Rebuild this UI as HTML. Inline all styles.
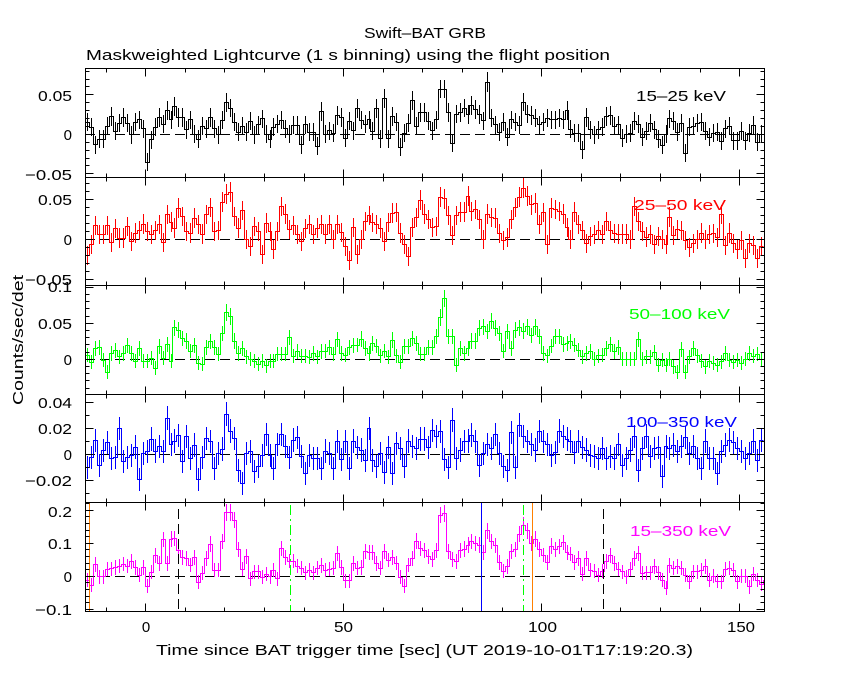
<!DOCTYPE html>
<html><head><meta charset="utf-8">
<style>
html,body{margin:0;padding:0;background:#fff;}
svg{display:block;}
text{font-family:"Liberation Sans","DejaVu Sans",sans-serif;font-size:15px;fill:#000;}
</style></head>
<body>
<svg id="s" width="850" height="680" viewBox="0 0 850 680" xmlns="http://www.w3.org/2000/svg">
<rect x="0" y="0" width="850" height="680" fill="#fff"/>
<defs>
<clipPath id="c0"><rect x="85" y="68" width="680" height="110"/></clipPath>
<clipPath id="c1"><rect x="85" y="177" width="680" height="109"/></clipPath>
<clipPath id="c2"><rect x="85" y="285" width="680" height="110"/></clipPath>
<clipPath id="c3"><rect x="85" y="394" width="680" height="109"/></clipPath>
<clipPath id="c4"><rect x="85" y="502" width="680" height="110"/></clipPath>
</defs>
<g id="data"></g>
<g id="events"></g>
<g id="axes"></g>

<text x="364" y="38" textLength="122" lengthAdjust="spacingAndGlyphs">Swift–BAT GRB</text>
<text x="86" y="60" textLength="524" lengthAdjust="spacingAndGlyphs">Maskweighted Lightcurve (1 s binning) using the flight position</text>

<text x="72" y="101" text-anchor="end" textLength="34" lengthAdjust="spacingAndGlyphs">0.05</text>
<text x="72" y="140" text-anchor="end">0</text>
<text x="72" y="180" text-anchor="end" textLength="47" lengthAdjust="spacingAndGlyphs">−0.05</text>

<text x="72" y="205" text-anchor="end" textLength="34" lengthAdjust="spacingAndGlyphs">0.05</text>
<text x="72" y="245" text-anchor="end">0</text>
<text x="72" y="285" text-anchor="end" textLength="47" lengthAdjust="spacingAndGlyphs">−0.05</text>

<text x="72" y="292" text-anchor="end" textLength="24" lengthAdjust="spacingAndGlyphs">0.1</text>
<text x="72" y="329" text-anchor="end" textLength="34" lengthAdjust="spacingAndGlyphs">0.05</text>
<text x="72" y="365" text-anchor="end">0</text>

<text x="72" y="408" text-anchor="end" textLength="34" lengthAdjust="spacingAndGlyphs">0.04</text>
<text x="72" y="434" text-anchor="end" textLength="34" lengthAdjust="spacingAndGlyphs">0.02</text>
<text x="72" y="460" text-anchor="end">0</text>
<text x="72" y="486" text-anchor="end" textLength="47" lengthAdjust="spacingAndGlyphs">−0.02</text>

<text x="72" y="517" text-anchor="end" textLength="24" lengthAdjust="spacingAndGlyphs">0.2</text>
<text x="72" y="549" text-anchor="end" textLength="24" lengthAdjust="spacingAndGlyphs">0.1</text>
<text x="72" y="582" text-anchor="end">0</text>
<text x="72" y="615" text-anchor="end" textLength="37" lengthAdjust="spacingAndGlyphs">−0.1</text>

<text x="146" y="632" text-anchor="middle">0</text>
<text x="334" y="632" textLength="19" lengthAdjust="spacingAndGlyphs">50</text>
<text x="528" y="632" textLength="29" lengthAdjust="spacingAndGlyphs">100</text>
<text x="727" y="632" textLength="28" lengthAdjust="spacingAndGlyphs">150</text>

<text x="156" y="655" textLength="537" lengthAdjust="spacingAndGlyphs">Time since BAT trigger time [sec] (UT 2019-10-01T17:19:20.3)</text>
<text transform="translate(23,340) rotate(-90)" x="0" y="0" text-anchor="middle" textLength="130" lengthAdjust="spacingAndGlyphs">Counts/sec/det</text>

<text x="636" y="101" textLength="90" lengthAdjust="spacingAndGlyphs" style="fill:#000">15–25 keV</text>
<text x="634" y="210" textLength="92" lengthAdjust="spacingAndGlyphs" style="fill:#ff0000">25–50 keV</text>
<text x="629" y="319" textLength="101" lengthAdjust="spacingAndGlyphs" style="fill:#00ff00">50–100 keV</text>
<text x="626" y="427" textLength="111" lengthAdjust="spacingAndGlyphs" style="fill:#0000ff">100–350 keV</text>
<text x="630" y="536" textLength="101" lengthAdjust="spacingAndGlyphs" style="fill:#ff00ff">15–350 keV</text>
</svg>
<script>
(function(){
var NS="http://www.w3.org/2000/svg";
function el(tag,attrs,parent){var e=document.createElementNS(NS,tag);for(var k in attrs)e.setAttribute(k,attrs[k]);parent.appendChild(e);return e;}
var X0=145.67,DX=3.96;
function xt(t){return X0+t*DX;}
function px(v){return Math.floor(v)+0.5;}

var P1L=[163,178,230,213,213,175,145,190,165,148,165,200,163,155,182,283,215,178,148,168,127,155,115,148,148,185,155,198,213,175,182,148,182,200,157,103,120,163,193,175,193,160,200,170,152,198,213,178,168,157,182,198,172,172,230,170,193,193,235,130,198,188,195,143,148,210,160,188,122,157,168,155,190,122,212,92,212,145,162,238,196,165,98,175,133];
var P1R=[133,160,188,155,63,63,133,225,138,133,120,140,113,125,140,158,42,150,170,192,162,208,155,163,172,102,138,142,150,170,162,150,155,155,150,155,128,183,195,195,245,148,185,200,185,178,145,143,175,170,210,198,195,160,168,208,190,165,185,213,232,198,152,160,193,165,255,178,175,165,162,190,208,195,192,220,182,175,218,218,190,218,195,172,222,198];

var P2L=[562,528,472,500,500,472,522,482,510,510,475,520,495,488,468,490,500,488,470,522,440,462,480,420,445,490,495,450,470,498,440,418,490,488,402,378,372,445,480,427,515,535,475,490,558,465,490,545,490,415,438,485,472,500,520,482,470,500,480,470,498,470,515,470,493,535,578,478,558,515,460,443,463,470,480,520,463,435,433,495,528,565,478,448,397];
var P2R=[438,455,478,475,388,392,443,503,443,432,432,385,430,425,455,515,438,448,450,497,518,508,455,418,388,360,385,410,405,470,433,530,420,425,430,438,478,515,432,470,487,527,505,500,487,500,460,488,497,498,498,498,515,415,460,490,507,500,530,505,515,528,447,502,485,488,518,538,525,515,495,515,500,497,508,440,533,495,525,545,518,570,525,532,570,535];

var P3L=[210,232,190,187,226,262,205,197,215,205,182,205,228,190,228,228,220,250,185,220,178,228,128,135,160,168,198,182,235,238,187,170,188,208,145,82,95,168,205,190,215,222,228,237,228,242,228,228,208,208,208,158,213,200,213,213,217,205,215,200,198,187,207,163,205,210,188,182,180,162,190,205,175,183,212,198,215,165,212,232,185,185,160,175,208];
var P3R=[208,188,188,155,98,40,155,155,240,190,205,190,168,168,130,125,140,108,130,145,198,140,190,135,128,138,125,152,125,155,205,212,183,155,155,178,175,170,180,195,215,205,200,222,212,210,190,178,200,188,222,222,222,222,163,222,215,215,202,240,225,240,222,245,262,193,262,215,190,212,228,245,228,235,240,230,205,225,232,225,235,222,205,213,208,222];

var P4L=[548,518,466,541,496,472,520,517,430,528,518,512,486,582,506,500,462,498,485,500,400,478,468,452,528,455,520,480,582,518,460,470,550,505,492,388,438,460,556,595,505,500,560,543,510,448,510,550,478,448,485,518,465,458,515,565,512,520,520,550,498,505,550,470,522,470,550,468,488,495,525,430,525,545,505,563,488,565,475,490,545,468,485,490,462];
var P4R=[462,488,437,455,440,522,548,405,520,495,470,468,450,470,540,506,478,490,448,505,545,555,443,548,420,455,470,478,495,440,470,478,512,503,438,455,462,470,502,470,488,495,510,515,520,490,520,515,520,478,540,520,495,455,555,490,453,515,490,488,575,485,490,480,500,485,458,505,485,520,550,468,520,520,565,500,480,465,472,490,500,520,505,468,525,465];

var P5L=[300,316,253,290,290,268,266,262,258,252,258,244,262,285,262,318,277,226,250,178,250,177,175,212,232,235,255,233,307,280,235,192,270,270,185,97,97,120,209,268,230,296,275,275,292,283,290,270,296,205,233,243,243,258,265,278,270,278,265,256,270,268,265,220,262,302,302,250,265,262,215,218,218,250,265,215,240,233,249,292,318,255,235,183,205];
var P5R=[212,230,238,212,105,100,215,238,245,212,207,195,185,190,195,218,152,185,197,248,273,260,215,208,163,135,152,190,177,208,225,248,198,208,200,187,218,222,248,235,282,235,270,273,285,273,245,227,250,268,275,290,268,235,220,280,278,278,260,278,300,325,257,265,260,265,285,305,275,275,270,260,300,288,303,305,268,265,270,305,288,288,320,282,300,313,300];

var panels=[
 {top:68,bot:177,zero:134.3,scale:790,crop:68,color:"#000000",err:9,errk:0.01,minor:0.01,ratio:5,vals:P1L.concat(P1R)},
 {top:177,bot:285,zero:239.3,scale:800,crop:68,color:"#ff0000",err:9.5,errk:0.01,minor:0.01,ratio:5,vals:P2L.concat(P2R)},
 {top:285,bot:394,zero:359.3,scale:720,crop:285,color:"#00ff00",err:7,errk:0.03,minor:0.01,ratio:5,vals:P3L.concat(P3R)},
 {top:394,bot:502,zero:454.2,scale:1300,crop:285,color:"#0000ff",err:11.5,errk:0.01,minor:0.01,ratio:2,vals:P4L.concat(P4R)},
 {top:502,bot:611,zero:576.3,scale:330,crop:480,color:"#ff00ff",err:7,errk:0.02,minor:0.02,ratio:5,vals:P5L.concat(P5R)}
];

var gData=document.getElementById("data");
var gAx=document.getElementById("axes");
var gEv=document.getElementById("events");
var ax="";

panels.forEach(function(p,pi){
  var vals=[p.vals[0]].concat(p.vals);
  var k0=-16;
  var zr=px(p.zero);
  var d="",e="";
  for(var i=0;i<vals.length;i++){
    var k=k0+i;
    var x0=xt(k-0.1),x1=xt(k+0.9);
    var yv=p.crop+vals[i]/3;
    var y=px(yv);
    if(i===0){d+="M"+px(x0)+" "+y;}else{d+="V"+y;}
    d+="H"+px(x1);
    var xc=px((x0+x1)/2);
    var er=p.err+p.errk*Math.max(0,p.zero-yv);
    e+="M"+xc+" "+Math.round(yv-er)+"V"+Math.round(yv+er);
  }
  var g=el("g",{"clip-path":"url(#c"+pi+")"},gData);
  el("path",{d:"M85 "+zr+"H764",stroke:"#000","stroke-width":1,fill:"none","stroke-dasharray":"10 5"},g);
  el("path",{d:e,stroke:p.color,"stroke-width":1,fill:"none"},g);
  el("path",{d:d,stroke:p.color,"stroke-width":1,fill:"none"},g);

  // frame
  ax+="M85.5 "+(p.top+0.5)+"H764.5V"+(p.bot+0.5)+"H85.5Z";
  // x ticks
  for(var t=-10;t<=150;t+=10){
    var x=px(xt(t));
    var len=(t%50===0)?8:4;
    ax+="M"+x+" "+(p.top+0.5)+"V"+(p.top+0.5+len);
    ax+="M"+x+" "+(p.bot+0.5)+"V"+(p.bot+0.5-len);
  }
  // y ticks
  var vmax=(p.zero-p.top)/p.scale, vmin=(p.zero-p.bot)/p.scale;
  var n0=Math.ceil(vmin/p.minor+1e-6), n1=Math.floor(vmax/p.minor-1e-6);
  for(var n=n0;n<=n1;n++){
    var yy=px(p.zero-n*p.minor*p.scale);
    var l=(n%p.ratio===0)?8:4;
    ax+="M85.5 "+yy+"H"+(85.5+l);
    ax+="M764.5 "+yy+"H"+(764.5-l);
  }
});

// event lines in bottom panel
var ev=[
 {x:89.5,y:502,c:"#ff8000",da:null},
 {x:178.5,y:509,c:"#000000",da:"10 5"},
 {x:290.5,y:505,c:"#00ff00",da:"10 4 2 4"},
 {x:481.5,y:502,c:"#0000ff",da:null},
 {x:523.5,y:505,c:"#00ff00",da:"10 4 2 4"},
 {x:532.5,y:502,c:"#ff8000",da:null},
 {x:603.5,y:509,c:"#000000",da:"10 5"}
];
ev.forEach(function(v){
  var a={d:"M"+v.x+" "+v.y+"V611",stroke:v.c,"stroke-width":1,fill:"none"};
  if(v.da)a["stroke-dasharray"]=v.da;
  el("path",a,gEv);
});

el("path",{d:ax,stroke:"#000","stroke-width":1,fill:"none"},gAx);
})();
</script>
</body></html>
